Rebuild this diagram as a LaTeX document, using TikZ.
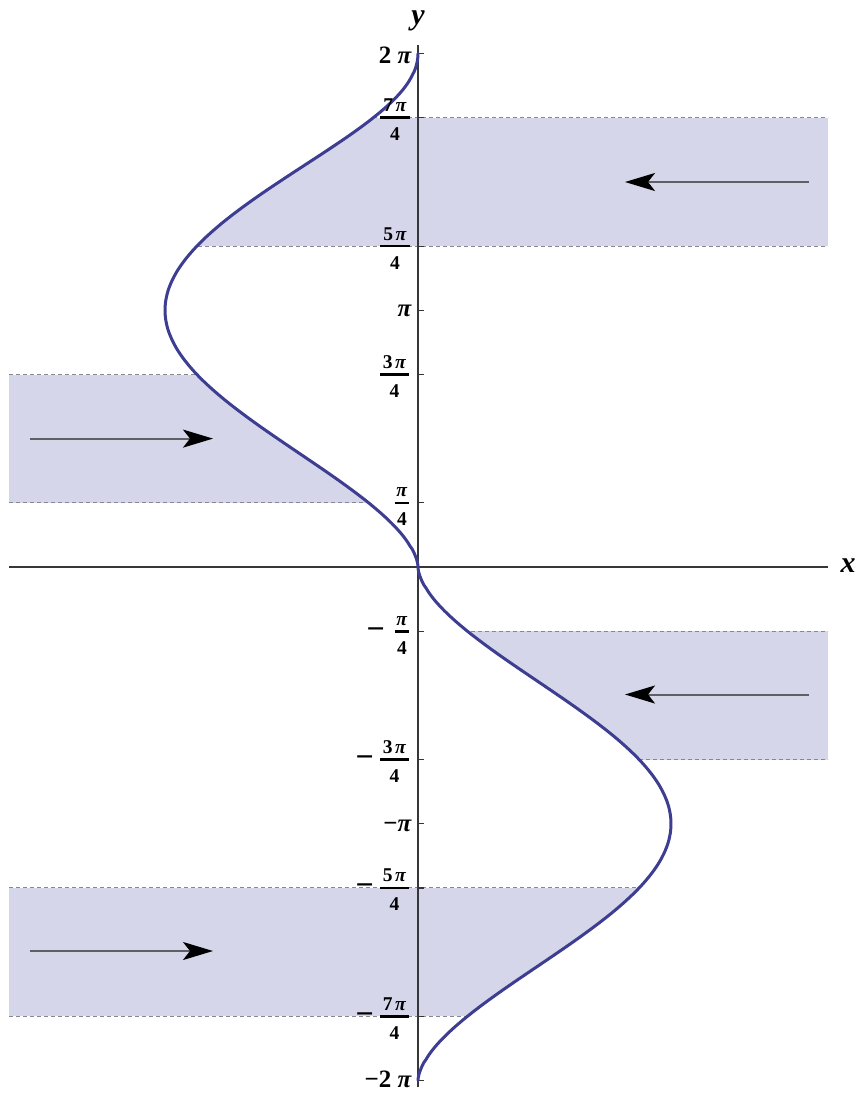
\documentclass[tikz,border=0pt]{standalone}
\usepackage{fontspec}
\setmainfont{Liberation Serif}
\usetikzlibrary{arrows.meta}
\definecolor{curvec}{RGB}{61,61,145}
\definecolor{bandc}{RGB}{214,214,234}
\definecolor{dashc}{RGB}{135,135,145}
\definecolor{axisc}{RGB}{55,55,55}
\definecolor{arrc}{RGB}{95,95,100}
\newcommand\PI{\textit{π}}
\newcommand\UpperCurve{(418,567) -- plot[domain=0.2:359.8,samples=200,variable=\t] ({418-253*pow(sin(\t/2),1.7+0.25*max(0,(\t-180)/180)^3)},{567-1.42639*\t}) -- (418,53.6)}
\newcommand\LowerCurve{(418,567) -- plot[domain=0.2:359.8,samples=200,variable=\t] ({418+253*pow(sin(\t/2),1.7)},{567+1.42639*\t}) -- (418,1080.4)}
\newcommand\fraclab[5]{%
  \node[fnum] (#1n) at ({(#4+#5)/2},{#2-6}) {#3};
  \node[fnum] (#1d) at ({(#4+#5)/2},{#2+23}) {4};
  \draw[fbar] (#4,#2) -- (#5,#2);
}
\begin{document}
\begin{tikzpicture}[x=1pt,y=-1pt,
  dashln/.style={draw=dashc, line width=1pt, dash pattern=on 4pt off 3pt},
  axisln/.style={draw=axisc, line width=1.4pt},
  tickln/.style={draw=axisc, line width=1.2pt},
  curveln/.style={draw=curvec, line width=3pt, line cap=round, line join=round},
  flowarrow/.style={draw=arrc, line width=2pt, -{Stealth[length=30pt,width=18pt,inset=7pt,color=black]}},
  lbl/.style={font=\fontsize{25}{27}\selectfont\bfseries, inner sep=0pt, anchor=base east},
  mlbl/.style={font=\fontsize{32}{34}\selectfont\bfseries, inner sep=0pt, anchor=base east},
  fnum/.style={font=\fontsize{19.5}{21}\selectfont\bfseries, inner sep=0pt, anchor=base},
  fbar/.style={draw=black, line width=2.6pt},
  axlbl/.style={font=\fontsize{30}{32}\selectfont\bfseries\itshape, inner sep=0pt}]
\useasboundingbox (0,0) rectangle (860,1093);
\fill[white] (0,0) rectangle (860,1093);
% bands
\begin{scope}
  \clip \UpperCurve -- (845,53.6) -- (845,567) -- cycle;
  \fill[bandc] (9,117.7) rectangle (828,246.1);
  \draw[dashln] (9,117.7) -- (828,117.7);
  \draw[dashln] (9,246.1) -- (828,246.1);
\end{scope}
\begin{scope}
  \clip \UpperCurve -- (0,53.6) -- (0,567) -- cycle;
  \fill[bandc] (9,374.5) rectangle (828,502.8);
  \draw[dashln] (9,374.5) -- (828,374.5);
  \draw[dashln] (9,502.8) -- (828,502.8);
\end{scope}
\begin{scope}
  \clip \LowerCurve -- (845,1080.4) -- (845,567) -- cycle;
  \fill[bandc] (9,631.2) rectangle (828,759.5);
  \draw[dashln] (9,631.2) -- (828,631.2);
  \draw[dashln] (9,759.5) -- (828,759.5);
\end{scope}
\begin{scope}
  \clip \LowerCurve -- (0,1080.4) -- (0,567) -- cycle;
  \fill[bandc] (9,887.9) rectangle (828,1016.3);
  \draw[dashln] (9,887.9) -- (828,887.9);
  \draw[dashln] (9,1016.3) -- (828,1016.3);
\end{scope}
% axes
\draw[axisln] (9,567) -- (828,567);
\draw[axisln] (418,45) -- (418,1087);
\foreach \yy in {53.6,117.7,246.1,310.3,374.5,502.8,631.2,759.5,823.7,887.9,1016.3,1080.4}
  \draw[tickln] (417,\yy) -- (424,\yy);
\node[axlbl] (ylab) at (418,21) {y};
\node[axlbl] (xlab) at (848,566) {x};
% curve
\draw[curveln] \UpperCurve;
\draw[curveln] \LowerCurve;
% flow arrows
\coordinate (a1s) at (809,182);  \coordinate (a1e) at (625,182);
\coordinate (a2s) at (30,438.6); \coordinate (a2e) at (213,438.6);
\coordinate (a3s) at (809,694.5); \coordinate (a3e) at (625,694.5);
\coordinate (a4s) at (30,951);   \coordinate (a4e) at (213,951);
\draw[flowarrow] (a1s) -- (a1e);
\draw[flowarrow] (a2s) -- (a2e);
\draw[flowarrow] (a3s) -- (a3e);
\draw[flowarrow] (a4s) -- (a4e);
% tick labels
\node[lbl] (l2pi) at (412,63) {2\hspace{0.25em}\PI};
\fraclab{l7}{117.7}{7\hspace{0.12em}\PI}{380}{410}
\fraclab{l5}{246.1}{5\hspace{0.12em}\PI}{380}{410}
\node[lbl] (lpi) at (412,316) {\PI};
\fraclab{l3}{374.5}{3\hspace{0.12em}\PI}{380}{409}
\fraclab{l1}{502.8}{\PI}{395}{409}
\node[mlbl] (m1) at (385,639.2) {−};
\fraclab{lm1}{631.2}{\PI}{395}{409}
\node[mlbl] (m3) at (374,767.5) {−};
\fraclab{lm3}{759.5}{3\hspace{0.12em}\PI}{380}{409}
\node[lbl] (lmpi) at (412,831) {−\PI};
\node[mlbl] (m5) at (374,895.9) {−};
\fraclab{lm5}{887.9}{5\hspace{0.12em}\PI}{380}{409}
\node[mlbl] (m7) at (374,1024.3) {−};
\fraclab{lm7}{1016.3}{7\hspace{0.12em}\PI}{380}{409}
\node[lbl] (lm2pi) at (412,1087.5) {−2\hspace{0.25em}\PI};
\end{tikzpicture}
\end{document}
